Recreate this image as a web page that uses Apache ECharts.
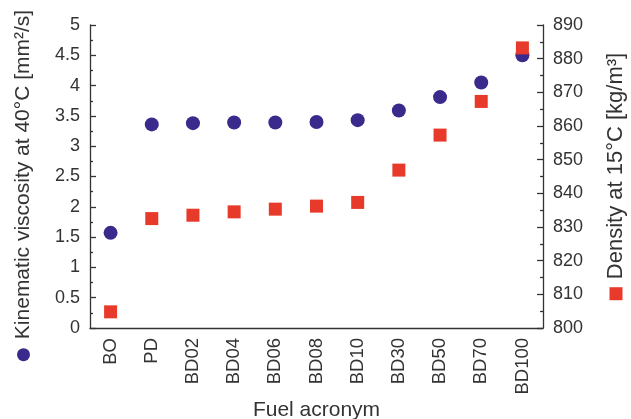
<!DOCTYPE html>
<html>
<head>
<meta charset="utf-8">
<script src="https://cdn.jsdelivr.net/npm/echarts@6/dist/echarts.min.js"></script>
<style>html,body{margin:0;padding:0;background:#fff}#c{width:631px;height:419px}</style>
</head>
<body>
<div id="c"></div>
<script>
const categories = ['BO','PD','BD02','BD04','BD06','BD08','BD10','BD30','BD50','BD70','BD100'];
const viscosity = [1.57, 3.36, 3.38, 3.39, 3.39, 3.40, 3.43, 3.59, 3.81, 4.05, 4.50];
const density = [804.8, 832.5, 833.5, 834.5, 835.3, 836.2, 837.3, 846.9, 857.3, 867.3, 883.2];
const leftTicks = {min: 0, max: 5, interval: 0.5};
const rightTicks = {min: 800, max: 890, interval: 10};

const FONT = 'Liberation Sans, Arial, sans-serif';
const AX = '#333';
const CIRC = '#3a2a8c';
const SQ = '#e83a2a';

const chart = echarts.init(document.getElementById('c'), null, {renderer: 'canvas'});
chart.setOption({
  animation: false,
  backgroundColor: '#fff',
  grid: {left: 90, right: 88, top: 25, bottom: 91, containLabel: false, outerBoundsMode: 'none'},
  xAxis: [{
    type: 'category',
    data: categories,
    position: 'bottom',
    name: 'Fuel acronym',
    nameLocation: 'middle',
    nameGap: 72,
    nameMoveOverlap: false,
    nameTextStyle: {fontFamily: FONT, fontSize: 21, color: AX},
    axisLine: {lineStyle: {color: AX, width: 1.3}},
    axisTick: {inside: true, length: 6, alignWithLabel: true, interval: 0, lineStyle: {color: AX, width: 1.3}},
    axisLabel: {rotate: 90, interval: 0, fontFamily: FONT, fontSize: 18.5, color: AX, margin: 10},
    splitLine: {show: false}
  }, {
    type: 'category',
    data: categories,
    position: 'bottom',
    axisLine: {show: false},
    axisTick: {inside: true, length: 3, alignWithLabel: false, interval: 0, lineStyle: {color: AX, width: 1.3}},
    axisLabel: {show: false},
    splitLine: {show: false}
  }],
  yAxis: [{
    type: 'value',
    position: 'left',
    min: leftTicks.min, max: leftTicks.max, interval: leftTicks.interval,
    name: '{m|}{t|Kinematic viscosity at 40°C [mm²/s]}',
    nameLocation: 'middle',
    nameRotate: 90,
    nameGap: 56,
    nameMoveOverlap: false,
    nameTextStyle: {
      fontFamily: FONT, fontSize: 21, color: AX,
      rich: {
        m: {width: 13, height: 13, borderRadius: 6.5, backgroundColor: CIRC},
        t: {fontFamily: FONT, fontSize: 21, color: AX, padding: [0, 18, 0, 9]}
      }
    },
    axisLine: {show: true, lineStyle: {color: AX, width: 1.3}},
    axisTick: {show: true, inside: true, length: 6, lineStyle: {color: AX, width: 1.3}},
    minorTick: {show: true, splitNumber: 2, length: 3, lineStyle: {color: AX, width: 1.3}},
    axisLabel: {fontFamily: FONT, fontSize: 18, color: AX, margin: 10},
    splitLine: {show: false}
  }, {
    type: 'value',
    position: 'right',
    min: rightTicks.min, max: rightTicks.max, interval: rightTicks.interval,
    name: '{m|}{t|Density at 15°C [kg/m³]}',
    nameLocation: 'middle',
    nameRotate: 90,
    nameGap: 62,
    nameMoveOverlap: false,
    nameTextStyle: {
      fontFamily: FONT, fontSize: 22, color: AX,
      rich: {
        m: {width: 13, height: 13, backgroundColor: SQ},
        t: {fontFamily: FONT, fontSize: 22, color: AX, padding: [0, 0, 0, 8]}
      }
    },
    axisLine: {show: true, lineStyle: {color: AX, width: 1.3}},
    axisTick: {show: true, inside: true, length: 6, lineStyle: {color: AX, width: 1.3}},
    minorTick: {show: true, splitNumber: 2, length: 3, lineStyle: {color: AX, width: 1.3}},
    axisLabel: {fontFamily: FONT, fontSize: 18, color: AX, margin: 10},
    splitLine: {show: false}
  }],
  series: [{
    name: 'Viscosity',
    type: 'scatter',
    xAxisIndex: 0, yAxisIndex: 0,
    data: viscosity,
    symbol: 'circle',
    symbolSize: 14,
    itemStyle: {color: CIRC, opacity: 1}
  }, {
    name: 'Density',
    type: 'scatter',
    xAxisIndex: 0, yAxisIndex: 1,
    data: density,
    symbol: 'rect',
    symbolSize: 13,
    itemStyle: {color: SQ, opacity: 1}
  }]
});
</script>
</body>
</html>
